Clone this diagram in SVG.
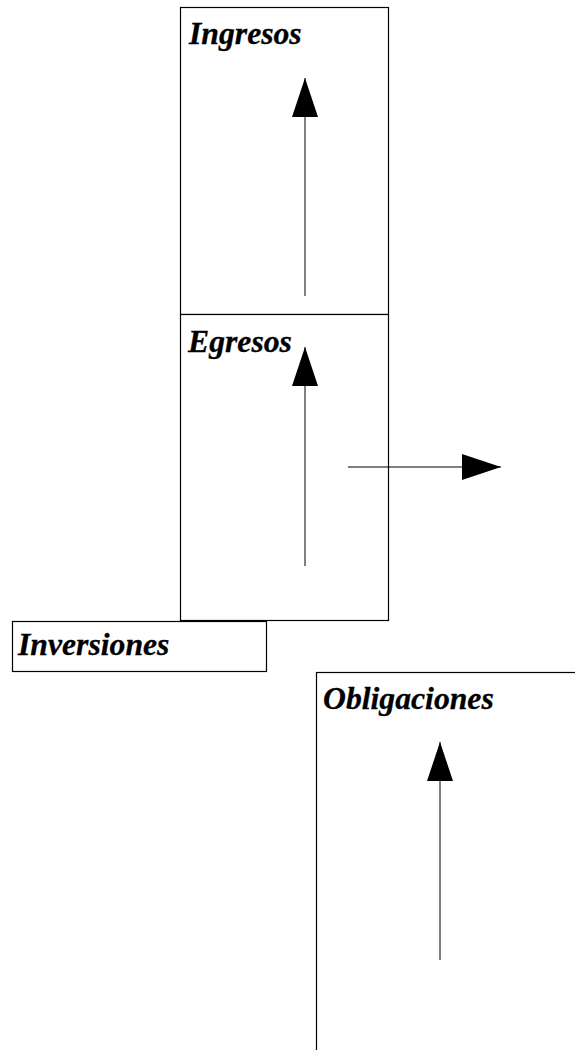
<svg xmlns="http://www.w3.org/2000/svg" width="575" height="1050" viewBox="0 0 575 1050">
  <style>
    .box { fill: #ffffff; stroke: #000000; stroke-width: 1.2; }
    .label { font-family: "Liberation Serif", "Times New Roman", serif; font-weight: bold; font-style: italic; font-size: 31.7px; fill: #000000; stroke: #000000; stroke-width: 0.3; }
    .conn { stroke: #000000; stroke-width: 1; fill: none; marker-end: url(#arrow); }
  </style>
  <defs>
    <marker id="arrow" markerUnits="userSpaceOnUse" markerWidth="40" markerHeight="26" refX="39" refY="13" orient="auto">
      <path d="M0,0 L39,13 L0,26 Z" fill="#000000"/>
    </marker>
  </defs>
  <rect width="575" height="1050" fill="#ffffff"/>
  <g id="node-ingresos">
    <rect class="box" x="180.5" y="7.5" width="208" height="307"/>
    <text class="label" x="189" y="44">Ingresos</text>
  </g>
  <g id="node-egresos">
    <rect class="box" x="180.5" y="314.5" width="208" height="306"/>
    <text class="label" x="188" y="352">Egresos</text>
  </g>
  <g id="node-inversiones">
    <rect class="box" x="12.5" y="621.5" width="254" height="50"/>
    <text class="label" x="18" y="655">Inversiones</text>
  </g>
  <g id="node-obligaciones">
    <rect class="box" x="316.5" y="672.5" width="300" height="420"/>
    <text class="label" x="323" y="709">Obligaciones</text>
  </g>
  <g id="connectors">
    <line class="conn" x1="305" y1="296" x2="305" y2="78"/>
    <line class="conn" x1="305" y1="566" x2="305" y2="347"/>
    <line class="conn" x1="348" y1="467" x2="501" y2="467"/>
    <line class="conn" x1="440" y1="960" x2="440" y2="742"/>
  </g>
</svg>
